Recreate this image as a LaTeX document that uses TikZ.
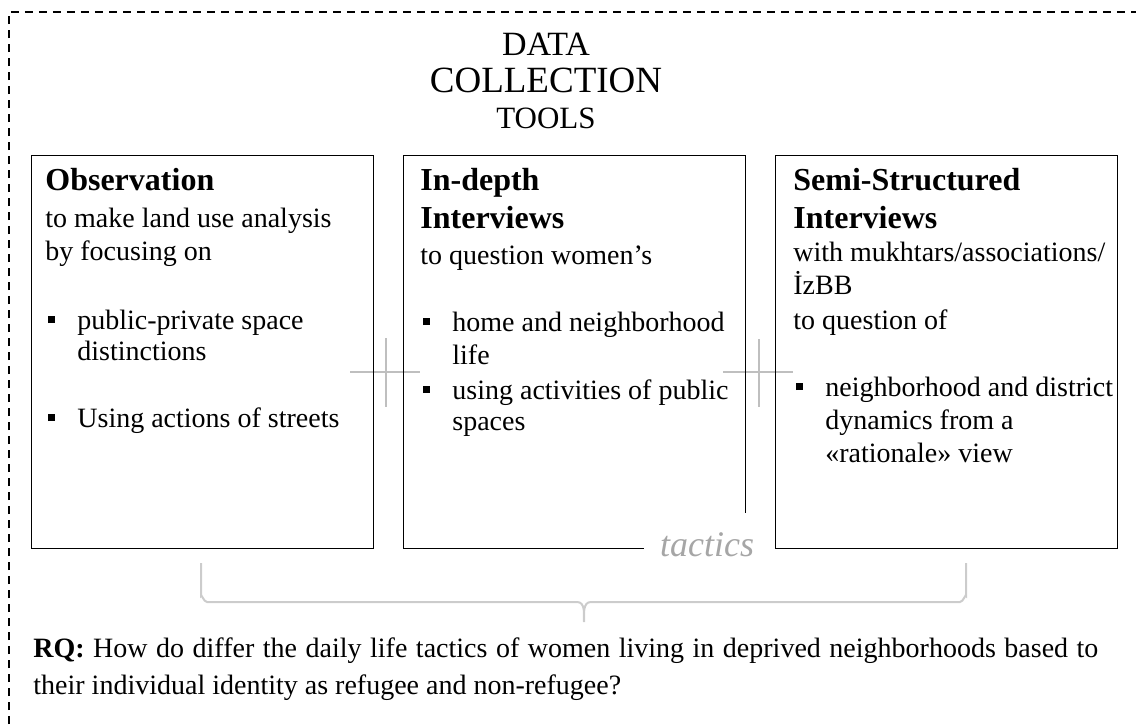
\documentclass[tikz,border=0pt]{standalone}
\usepackage{fontspec}
\setmainfont{Liberation Serif}
\usepackage{tikz}

\newcommand{\sqitem}{\makebox[16pt][l]{\hspace{1.5pt}\rule[3pt]{3.5pt}{3.5pt}}}
\newcommand{\sqcont}{\hspace*{16pt}}
\newcommand{\boxhead}[1]{{\fontsize{16pt}{19pt}\selectfont\bfseries #1}}

\begin{document}
\begin{tikzpicture}[x=0.5pt,y=-0.5pt,
  toolbox/.style={draw, line width=0.7pt, minimum width=171pt, minimum height=196.5pt, anchor=north west, inner sep=0pt},
  boxtext/.style={anchor=base west, inner sep=0pt, align=flush left, text width=165pt, font=\fontsize{14pt}{16.5pt}\selectfont},
  titletext/.style={anchor=base, inner sep=0pt},
  plusline/.style={draw=black!25, line width=1pt},
  bracepath/.style={draw=black!20, line width=1pt},
  tacticlabel/.style={anchor=base, fill=white, inner xsep=8pt, inner ysep=0pt, text height=21.5pt, text depth=3pt, text=black!35, font=\fontsize{18pt}{20pt}\selectfont\itshape}]
\useasboundingbox (0,0) rectangle (1136,724);
\draw[line width=0.65pt, dash pattern=on 4pt off 3pt] (9,724) -- (9,12) -- (1136,12);

\node[titletext, font=\fontsize{17pt}{20pt}\selectfont] (t1) at (546,55) {DATA};
\node[titletext, font=\fontsize{18.5pt}{20pt}\selectfont] (t2) at (546,92) {COLLECTION};
\node[titletext, font=\fontsize{15.5pt}{18pt}\selectfont] (t3) at (546,128) {TOOLS};

% plus signs between the tools
\draw[plusline] (350,372) -- (420,372);
\draw[plusline] (386,338) -- (386,407);
\draw[plusline] (723,372) -- (793,372);
\draw[plusline] (759,339) -- (759,407);

\node[toolbox] (obs) at (31,155) {};
\node[toolbox] (idi) at (403,155) {};
\node[toolbox] (ssi) at (775,155) {};

\node[boxtext] (obstxt) at (45,190) {\boxhead{Observation}\\[2pt]
to make land use analysis\\
by focusing on\\[18pt]
\sqitem public-private space\\[-1pt]
\sqcont distinctions\\[17pt]
\sqitem Using actions of streets};

\node[boxtext] (iditxt) at (420,190) {\boxhead{In-depth\\[2.5pt]Interviews}\\[1.5pt]
to question women’s\\[17pt]
\sqitem home and neighborhood\\
\sqcont life\\[1pt]
\sqitem using activities of public\\[-1pt]
\sqcont spaces};

\node[boxtext] (ssitxt) at (793,190) {\boxhead{Semi-Structured\\[2.5pt]Interviews}\\
with mukhtars/associations/\\
İzBB\\[1pt]
to question of\\[17pt]
\sqitem neighborhood and district\\
\sqcont dynamics from a\\
\sqcont «rationale» view};

\node[tacticlabel] (tac) at (707,556) {tactics};

% brace under the three tools
\draw[bracepath] (201,563) -- (201,596) to[out=90,in=180] (207,602)
  -- (577,602) to[out=0,in=90] (584,622) to[out=90,in=180] (591,602)
  -- (960,602) to[out=0,in=90] (966,596) -- (966,563);

\node[boxtext, align=justify, text width=532.5pt, font=\fontsize{14pt}{18.5pt}\selectfont] (rq) at (33,657) {\textbf{RQ:} How do differ the daily life tactics of women living in deprived neighborhoods based to their individual identity as refugee and non-refugee?};
\end{tikzpicture}
\end{document}
